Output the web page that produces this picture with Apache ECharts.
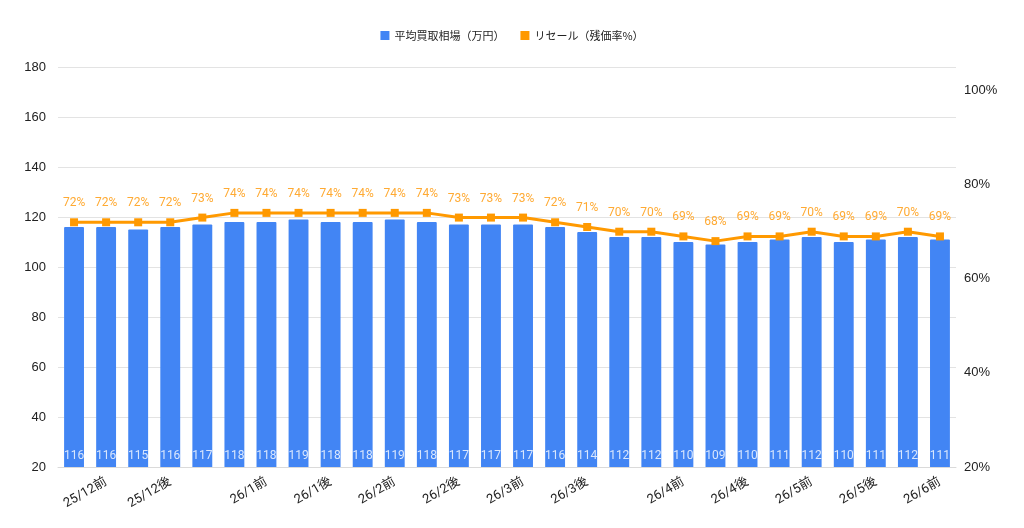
<!DOCTYPE html>
<html>
<head>
<meta charset="utf-8">
<script src="https://cdn.jsdelivr.net/npm/echarts@6/dist/echarts.min.js"></script>
<style>
  html, body { margin: 0; padding: 0; background: #fff; }
  #chart { width: 1024px; height: 528px; }
</style>
</head>
<body>
<div id="chart"></div>
<script>
// カテゴリ（表示されるラベルは labelIdx の位置だけ）
var categories = [
  '25/12前', '25/12前', '25/12後', '25/12後', '26/1前', '26/1前', '26/1前',
  '26/1後', '26/1後', '26/2前', '26/2前', '26/2後', '26/2後', '26/3前',
  '26/3前', '26/3後', '26/3後', '26/4前', '26/4前', '26/4前', '26/4後',
  '26/4後', '26/5前', '26/5前', '26/5後', '26/5後', '26/6前', '26/6前'
];
var labelIdx = [1, 3, 6, 8, 10, 12, 14, 16, 19, 21, 23, 25, 27];
var priceData = [116, 116, 115, 116, 117, 118, 118, 119, 118, 118, 119, 118, 117, 117,
                 117, 116, 114, 112, 112, 110, 109, 110, 111, 112, 110, 111, 112, 111];
var resaleData = [72, 72, 72, 72, 73, 74, 74, 74, 74, 74, 74, 74, 73, 73,
                  73, 72, 71, 70, 70, 69, 68, 69, 69, 70, 69, 69, 70, 69];
var leftTicks = { min: 20, max: 180, interval: 20 };
var rightTicks = { min: 20, max: 105, interval: 20 };

var font = "Roboto, 'Noto Sans CJK JP', sans-serif";
var myChart = echarts.init(document.getElementById('chart'));
myChart.setOption({
  animation: false,
  textStyle: { fontFamily: font },
  legend: {
    top: 25,
    left: 'center',
    itemWidth: 9,
    itemHeight: 9,
    itemGap: 16,
    textStyle: { fontSize: 11, color: '#222', fontFamily: "'Noto Sans CJK JP', sans-serif" },
    data: [
      { name: '平均買取相場（万円）', icon: 'rect' },
      { name: 'リセール（残価率%）', icon: 'rect', itemStyle: { color: '#FF9900' } }
    ]
  },
  grid: { left: 58, right: 68, top: 67, bottom: 61 },
  xAxis: {
    type: 'category',
    data: categories,
    axisLine: { show: true, lineStyle: { color: '#dadada' } },
    axisTick: { show: false },
    axisLabel: {
      interval: function (i) { return labelIdx.indexOf(i) >= 0; },
      rotate: 30,
      margin: 14,
      fontSize: 13,
      color: '#222'
    }
  },
  yAxis: [
    {
      type: 'value',
      min: leftTicks.min, max: leftTicks.max, interval: leftTicks.interval,
      axisLine: { show: false },
      axisTick: { show: false },
      axisLabel: { fontSize: 13, color: '#222', margin: 12, fontFamily: "'Liberation Sans', Arial, sans-serif" },
      splitLine: { show: true, lineStyle: { color: '#e3e3e3' } }
    },
    {
      type: 'value',
      min: rightTicks.min, max: rightTicks.max, interval: rightTicks.interval,
      axisLine: { show: false },
      axisTick: { show: false },
      splitLine: { show: false },
      axisLabel: {
        showMaxLabel: false,
        formatter: '{value}%',
        fontSize: 13, color: '#222', margin: 8,
        fontFamily: "'Liberation Sans', Arial, sans-serif"
      }
    }
  ],
  series: [
    {
      name: '平均買取相場（万円）',
      type: 'bar',
      yAxisIndex: 0,
      data: priceData,
      barWidth: '62%',
      itemStyle: { color: '#4285F4', borderRadius: [1, 1, 0, 0] },
      label: {
        show: true,
        position: 'insideBottom',
        distance: 5,
        fontSize: 12,
        color: 'rgba(255,255,255,0.8)'
      },
      z: 2
    },
    {
      name: 'リセール（残価率%）',
      type: 'line',
      yAxisIndex: 1,
      data: resaleData,
      color: '#FF9900',
      lineStyle: { width: 3, color: '#FF9900' },
      symbol: 'rect',
      symbolSize: 8,
      itemStyle: { color: '#FF9900' },
      label: {
        show: true,
        position: 'top',
        distance: 9,
        formatter: '{c}%',
        fontSize: 12,
        color: '#FFAA33'
      },
      z: 3
    }
  ]
});
</script>
</body>
</html>
